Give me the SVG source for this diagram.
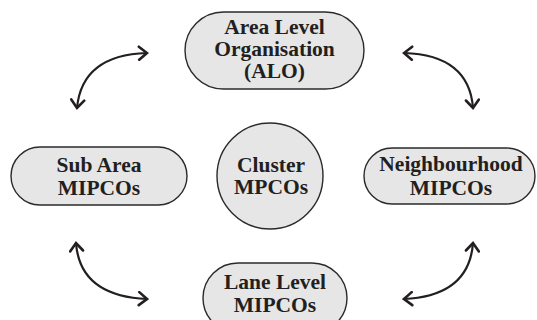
<svg xmlns="http://www.w3.org/2000/svg" width="537" height="320" viewBox="0 0 537 320">
<style>
.node{fill:#e6e6e6;stroke:#2a2a2a;stroke-width:1.4}
.t{font-family:"Liberation Serif","Times New Roman",serif;font-weight:bold;font-size:21.5px;fill:#231f20;text-anchor:middle}
.c{fill:none;stroke:#231f20;stroke-width:2.2}
</style>
<defs>
<marker id="ah" viewBox="0 0 12 16" refX="10" refY="8" markerWidth="12" markerHeight="16" markerUnits="userSpaceOnUse" orient="auto-start-reverse">
<path d="M2,1.5 L10,8 L2,14.5" fill="none" stroke="#231f20" stroke-width="2.6" stroke-linecap="round" stroke-linejoin="miter"/>
</marker>
</defs>
<rect width="537" height="320" fill="#ffffff"/>
<g id="connectors">
<path class="c" d="M147,53 Q82,55 77,108" marker-start="url(#ah)" marker-end="url(#ah)"/>
<path class="c" d="M404,53 Q469,55 473,108" marker-start="url(#ah)" marker-end="url(#ah)"/>
<path class="c" d="M76,243 Q80,296 147,299" marker-start="url(#ah)" marker-end="url(#ah)"/>
<path class="c" d="M473,243 Q469,296 404,299" marker-start="url(#ah)" marker-end="url(#ah)"/>
</g>
<g id="alo">
<rect class="node" x="185" y="12" width="179" height="77" rx="38.5"/>
<text class="t" x="274.5" y="34">Area Level</text>
<text class="t" x="274.5" y="56">Organisation</text>
<text class="t" x="274.5" y="78">(ALO)</text>
</g>
<g id="subarea">
<rect class="node" x="11" y="147" width="176" height="58" rx="29"/>
<text class="t" x="99" y="172">Sub Area</text>
<text class="t" x="99" y="195">MIPCOs</text>
</g>
<g id="cluster">
<circle class="node" cx="270" cy="176" r="53"/>
<text class="t" x="271" y="172">Cluster</text>
<text class="t" x="271" y="194">MPCOs</text>
</g>
<g id="neighbourhood">
<rect class="node" x="364" y="148" width="171" height="56" rx="28"/>
<text class="t" x="451" y="171">Neighbourhood</text>
<text class="t" x="451" y="195">MIPCOs</text>
</g>
<g id="lane">
<rect class="node" x="203" y="263" width="144" height="70" rx="35"/>
<text class="t" x="275" y="289">Lane Level</text>
<text class="t" x="275" y="312">MIPCOs</text>
</g>
</svg>
